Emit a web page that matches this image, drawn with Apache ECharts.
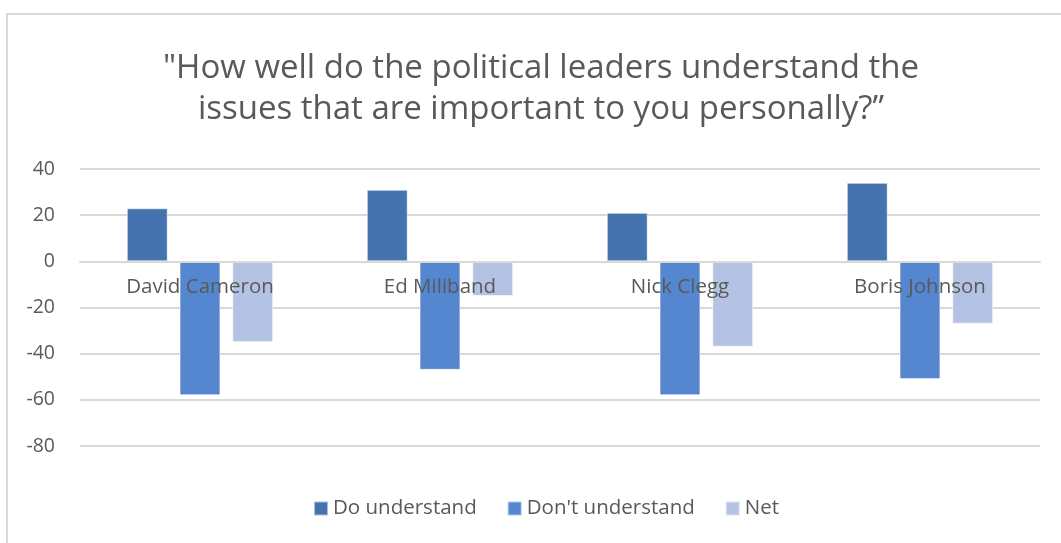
<!DOCTYPE html>
<html>
<head>
<meta charset="utf-8">
<script src="https://cdn.jsdelivr.net/npm/echarts@6/dist/echarts.min.js"></script>
<style>
  html, body { margin: 0; padding: 0; background: #fff; }
  #chart { width: 1061px; height: 543px; }
</style>
</head>
<body>
<div id="chart"></div>
<script>
// Poll results: how well each leader understands voters' personal issues
const leaders = ['David Cameron', 'Ed Miliband', 'Nick Clegg', 'Boris Johnson'];
const doUnderstand = [23, 31, 21, 34];
const dontUnderstand = [-58, -47, -58, -51];
const net = [-35, -15, -37, -27];
const yTicks = { min: -80, max: 40, step: 20 };

const FONT = '"Open Sans", "Noto Sans", sans-serif';
const TEXT = '#595959';

const GRID = { left: 80, right: 21, top: 169, bottom: 97 };
const chartHeight = 543;
const plotHeight = chartHeight - GRID.top - GRID.bottom;
// distance from the plot bottom up to the zero line, so the category axis sits on zero
const zeroLift = plotHeight * (0 - yTicks.min) / (yTicks.max - yTicks.min);

const chart = echarts.init(document.getElementById('chart'), null, { renderer: 'canvas' });

const barStyle = (color) => ({
  color: color,
  borderColor: 'rgba(255,255,255,0.55)',
  borderWidth: 1
});

chart.setOption({
  animation: false,
  backgroundColor: '#ffffff',
  title: {
    text: '"How well do the political leaders understand the\nissues that are important to you personally?”',
    left: 536,
    textAlign: 'center',
    top: 43,
    textStyle: {
      fontFamily: FONT,
      fontSize: 33,
      fontWeight: 'normal',
      color: TEXT,
      lineHeight: 41
    }
  },
  legend: {
    bottom: 19,
    left: 308,
    itemWidth: 14,
    itemHeight: 14,
    itemGap: 30,
    icon: 'rect',
    textStyle: { fontFamily: FONT, fontSize: 20.5, color: TEXT },
    data: ['Do understand', "Don't understand", 'Net']
  },
  grid: Object.assign({ containLabel: false }, GRID),
  xAxis: {
    type: 'category',
    data: leaders,
    z: 10,
    offset: -zeroLift,
    axisLine: { show: true, onZero: false, lineStyle: { color: '#d9d9d9', width: 2 } },
    axisTick: { show: false },
    axisLabel: {
      fontFamily: FONT,
      fontSize: 20.5,
      color: TEXT,
      margin: 15
    }
  },
  yAxis: {
    type: 'value',
    min: yTicks.min,
    max: yTicks.max,
    interval: yTicks.step,
    axisLine: { show: false },
    axisTick: { show: false },
    splitLine: { lineStyle: { color: '#d9d9d9', width: 2 } },
    axisLabel: {
      fontFamily: FONT,
      fontSize: 19.5,
      color: TEXT,
      margin: 25
    }
  },
  series: [
    {
      name: 'Do understand', type: 'bar', data: doUnderstand,
      barCategoryGap: '39%', barGap: '29%',
      itemStyle: barStyle('#4672AF')
    },
    {
      name: "Don't understand", type: 'bar', data: dontUnderstand,
      barCategoryGap: '39%', barGap: '29%',
      itemStyle: barStyle('#5587D0')
    },
    {
      name: 'Net', type: 'bar', data: net,
      barCategoryGap: '39%', barGap: '29%',
      itemStyle: barStyle('#B4C3E3')
    }
  ],
  graphic: [
    {
      type: 'rect',
      silent: true,
      z: -1,
      shape: { x: 7, y: 14, width: 1100, height: 600 },
      style: { fill: 'none', stroke: '#d9d9d9', lineWidth: 2 }
    }
  ]
});
</script>
</body>
</html>
